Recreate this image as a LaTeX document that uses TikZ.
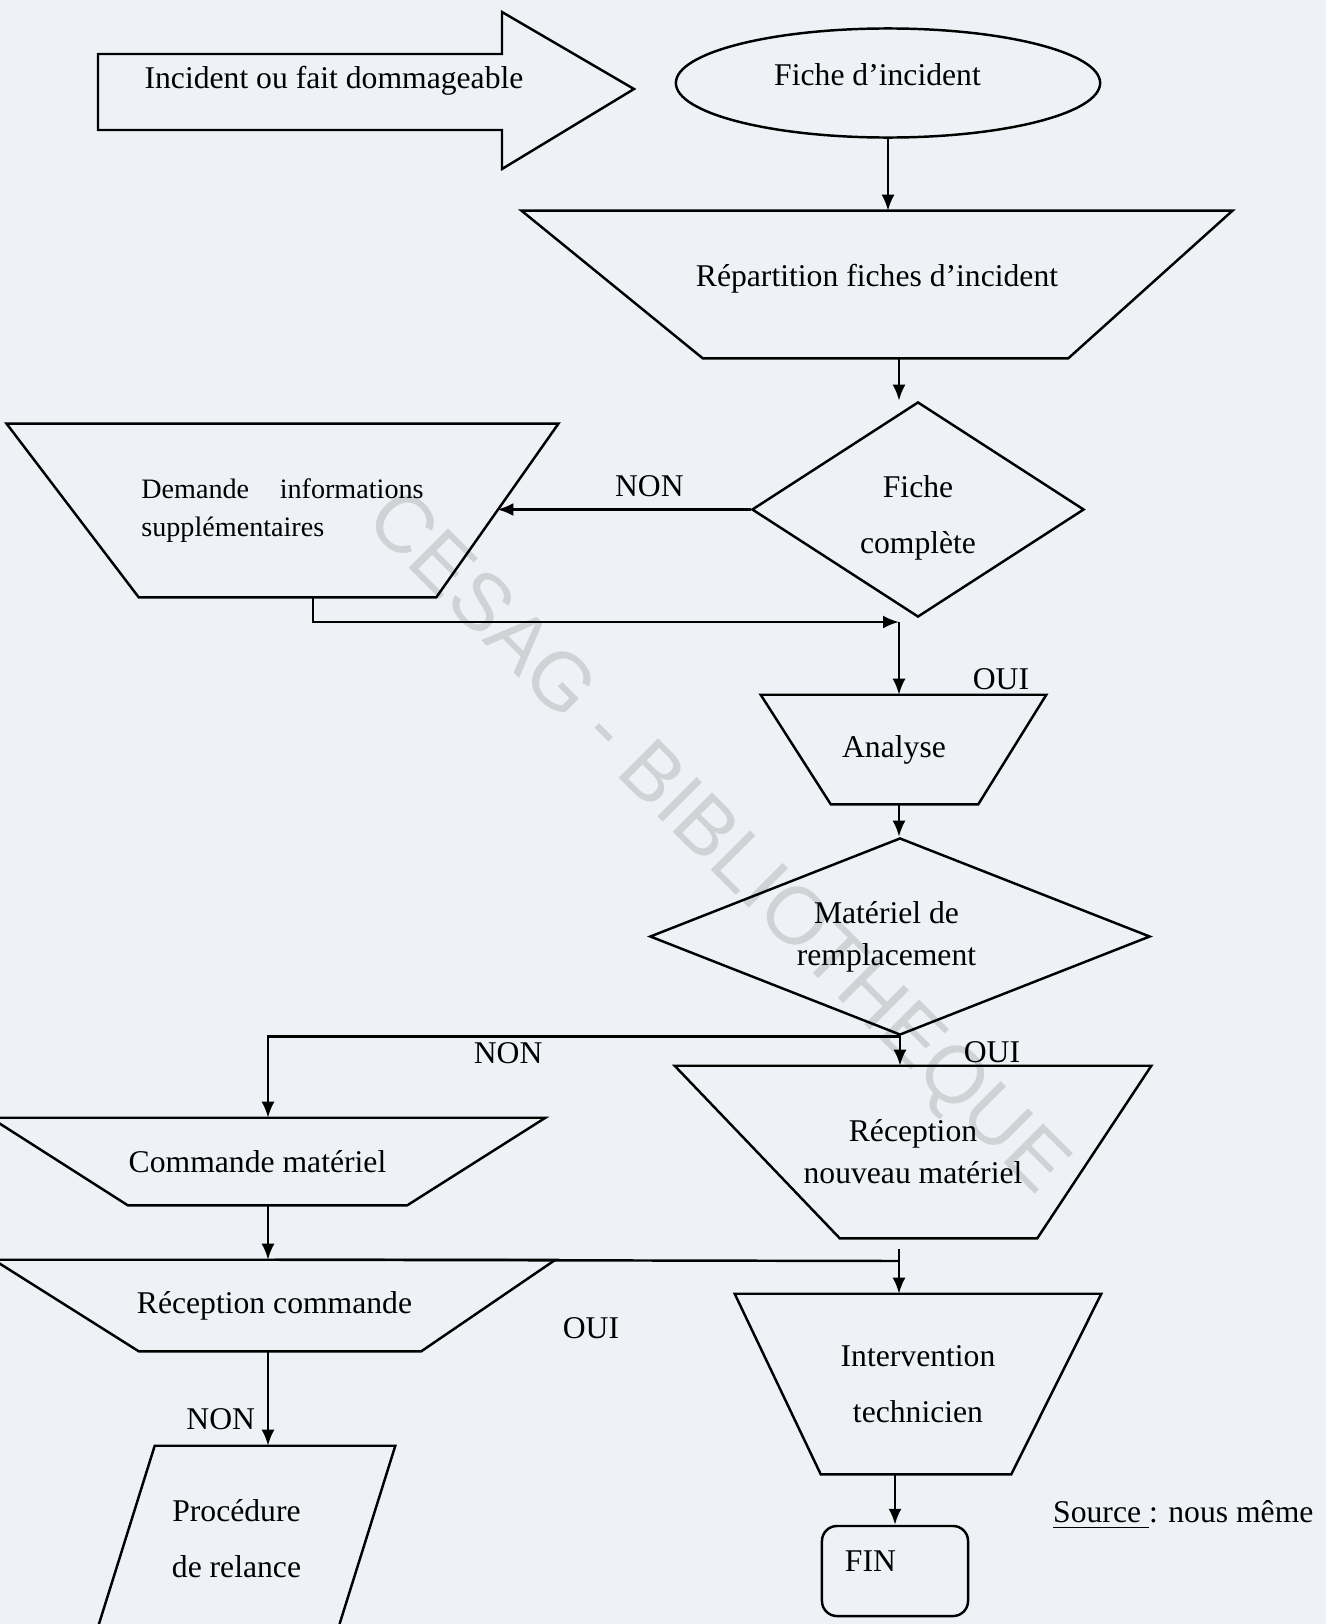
\documentclass[tikz,border=0pt]{standalone}
\usepackage{fontspec}
\setmainfont{Liberation Serif}
\newfontfamily\filigrane{Liberation Sans}
\usepackage{tikz}
\usetikzlibrary{arrows.meta,calc,shapes.geometric,positioning}
\definecolor{FondScan}{RGB}{238,242,246}
\definecolor{GrisFiligrane}{RGB}{208,210,213}

\begin{document}
\begin{tikzpicture}[x=0.01cm,y=-0.01cm,>={Latex[length=1.6mm,width=1.3mm]},line width=0.7pt,
    font=\fontsize{9}{11}\selectfont,
    boite/.style={rectangle,inner sep=0pt,align=center},
    losange/.style={diamond,draw,inner sep=0pt,align=center}]
  \fill[FondScan] (0,0) rectangle (1326,1624);
  \useasboundingbox (0,0) rectangle (1326,1624);
  \node[rotate=-45,text=GrisFiligrane,font=\filigrane\fontsize{23}{23}\selectfont] (cesag) at (715,845) {CESAG - BIBLIOTHEQUE};
  % depart
  \draw (98,54) -- (502,54) -- (502,12) -- (634,89) -- (502,169) -- (502,130) -- (98,130) -- cycle;
  \node (incident) at (334,81) {Incident ou fait dommageable};
  \node[ellipse,draw,minimum width=4.24cm,minimum height=1.09cm,inner sep=0pt] (fiche) at (888,83) {\raisebox{0.16cm}{Fiche d’incident}\kern0.21cm};
  \node[boite,minimum width=7.08cm,minimum height=1.45cm] (rep) at (877,284.5) {\raisebox{0.19cm}{Répartition fiches d’incident}};
  \draw (rep.north west) -- (rep.north east) -- ([xshift=-1.64cm]rep.south east) -- ([xshift=1.81cm]rep.south west) -- cycle;
  \node[losange,aspect=1.54,minimum width=3.32cm,minimum height=2.15cm] (complete) at (918,509.5) {\rule{0pt}{0.38cm}Fiche\\[5pt]complète};
  \node[boite,minimum width=5.49cm,minimum height=1.71cm,text width=2.82cm,align=left,font=\fontsize{8}{11}\selectfont] (dem) at (282.5,510.5) {\makebox[2.82cm]{Demande\hfill informations}\\supplémentaires};
  \draw (dem.north west) -- (dem.north east) -- ([xshift=-1.22cm]dem.south east) coordinate (dem-se) -- ([xshift=1.32cm]dem.south west) -- cycle;
  \coordinate (dem-e) at ($(dem.north east)!0.5!(dem-se)$);
  \node[boite,minimum width=2.83cm,minimum height=1.07cm] (ana) at (903.5,749.5) {Analyse\kern0.19cm};
  \draw (ana.north west) -- (ana.north east) -- ([xshift=-0.68cm]ana.south east) -- ([xshift=0.70cm]ana.south west) -- cycle;
  \node[losange,aspect=2.54,minimum width=5cm,minimum height=1.97cm] (mat) at (900,936.5) {Matériel de\kern0.27cm\\[1pt]remplacement\kern0.27cm};
  % branches
  \node[boite,minimum width=5.52cm,minimum height=0.85cm] (cmd) at (268,1161.5) {Commande matériel\kern0.21cm};
  \draw (cmd.north west) -- (cmd.north east) -- ([xshift=-1.38cm]cmd.south east) -- ([xshift=1.37cm]cmd.south west) -- cycle;
  \node[boite,minimum width=4.74cm,minimum height=1.70cm] (recn) at (913,1152) {Réception\\[1pt]nouveau matériel};
  \draw (recn.north west) -- (recn.north east) -- ([xshift=-1.14cm]recn.south east) -- ([xshift=1.65cm]recn.south west) -- cycle;
  \node[boite,minimum width=5.59cm,minimum height=0.89cm] (recc) at (274.5,1305.5) {Réception commande};
  \draw (recc.north west) -- (recc.north east) -- ([xshift=-1.34cm]recc.south east) -- ([xshift=1.45cm]recc.south west) -- cycle;
  \node[boite,minimum width=3.64cm,minimum height=1.78cm] (interv) at (918,1384) {Intervention\\[5pt]technicien};
  \draw (interv.north west) -- (interv.north east) -- ([xshift=-0.90cm]interv.south east) -- ([xshift=0.86cm]interv.south west) -- cycle;
  \node[boite,minimum width=2.96cm,minimum height=1.83cm] (relance) at (246,1538.5) {Procédure\kern0.19cm\\[5pt]de relance\kern0.19cm};
  \draw ([xshift=0.58cm]relance.north west) -- (relance.north east) -- ([xshift=-0.58cm]relance.south east) -- (relance.south west) -- cycle;
  \node[draw,rounded corners=0.15cm,minimum width=1.46cm,minimum height=0.9cm,text width=1cm,inner xsep=0.23cm,inner ysep=0pt,align=left] (fin) at (895,1571) {\raisebox{0.2cm}{FIN}};
  \node[anchor=west,inner sep=0pt] (source) at (1052,1515) {\underline{Source\ }: nous même};
  % connecteurs
  \coordinate (axe) at (899,0);
  \draw[->] (fiche.south) -- (fiche.south |- rep.north);
  \draw[->] (rep.south -| axe) -- (complete.north -| axe);
  \draw[->] (complete.west) -- (complete.west -| dem-e) node[pos=0.4,above] (non1) {NON};
  \coordinate (j1) at (899,622);
  \draw[->] ([xshift=0.305cm]dem.south) |- (j1);
  \draw[->] (j1) -- (ana.north -| j1);
  \node (oui1) at (1001,679) {OUI};
  \draw[->] (ana.south -| axe) -- (mat.north -| axe);
  \draw[->] (mat.south) -| (cmd.north) node[pos=0.31,below=-2pt] (non2) {NON};
  \draw[->] (mat.south) -- (mat.south |- recn.north);
  \node (oui2) at (992,1052) {OUI};
  \draw[->] (cmd.south) -- (cmd.south |- recc.north);
  \coordinate (j2) at (899,1261);
  \draw (recc.north) -- (j2);
  \draw[->,shorten <=0.11cm] (recn.south -| axe) -- (interv.north -| axe);
  \node (oui3) at (591,1328) {OUI};
  \draw[->] (recc.south -| cmd.south) -- (relance.north -| cmd.south) node[pos=0.72,left] (non3) {NON};
  \draw[->] (fin.north |- interv.south) -- (fin.north);
\end{tikzpicture}
\end{document}
